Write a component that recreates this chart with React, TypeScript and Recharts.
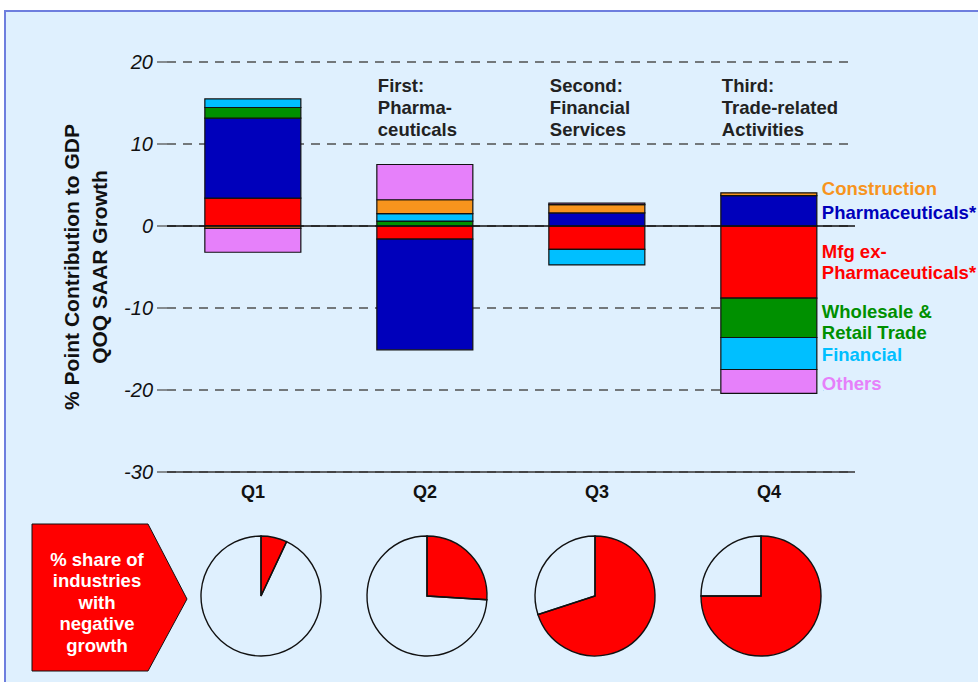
import React from "react";
import {
  BarChart,
  Bar,
  XAxis,
  YAxis,
  CartesianGrid,
  ReferenceLine,
  LabelList,
  Label,
  PieChart,
  Pie,
  Cell,
} from "recharts";

const quarters = ["Q1", "Q2", "Q3", "Q4"];
const mfgExPharma = [3.4, -1.6, -2.85, -8.8];
const pharma = [9.75, -13.5, 1.6, 3.7];
const wholesaleRetail = [1.3, 0.6, 0, -4.8];
const financial = [1.05, 0.9, -1.9, -3.9];
const construction = [-0.3, 1.7, 1.0, 0.35];
const others = [-2.9, 4.3, 0.2, -2.9];
const yTicks = [-30, -20, -10, 0, 10, 20];

// % share of industries with negative growth
const negShare = [7, 26, 70, 75];
const restShare = [93, 74, 30, 25];

const callouts: Record<string, string[]> = {
  Q2: ["First:", "Pharma-", "ceuticals"],
  Q3: ["Second:", "Financial", "Services"],
  Q4: ["Third:", "Trade-related", "Activities"],
};

const FONT = "'Liberation Sans', Arial, sans-serif";
const BG = "#DFF0FE";
const TXT = 18.5;

const series = [
  { key: "mfg", color: "#FF0000", legend: ["Mfg ex-", "Pharmaceuticals*"], dy: 0 },
  { key: "pharma", color: "#0000BB", legend: ["Pharmaceuticals*"], dy: 2 },
  { key: "wholesale", color: "#009000", legend: ["Wholesale &", "Retail Trade"], dy: 4 },
  { key: "financial", color: "#00BFFF", legend: ["Financial"], dy: 1 },
  { key: "construction", color: "#F7941D", legend: ["Construction"], dy: -6 },
  { key: "others", color: "#E680FA", legend: ["Others"], dy: 2 },
];

const data = quarters.map((q, i) => ({
  quarter: q,
  mfg: mfgExPharma[i],
  pharma: pharma[i],
  wholesale: wholesaleRetail[i],
  financial: financial[i],
  construction: construction[i],
  others: others[i],
}));

function box(props: any) {
  const vb = props.viewBox || props;
  return { x: vb.x, y: vb.y, width: vb.width, height: vb.height };
}

// legend text sits to the right of the last bar, next to its own segment
function legendLabel(lines: string[], color: string, dy: number) {
  return (props: any) => {
    if (props.value !== "Q4") return null;
    const b = box(props);
    const cy = b.y + b.height / 2 + dy;
    const top = cy - ((lines.length - 1) * 21.5) / 2;
    return (
      <g>
        {lines.map((t, k) => (
          <text
            key={k}
            x={b.x + b.width + 5}
            y={top + k * 21.5}
            dominantBaseline="central"
            fill={color}
            stroke={BG}
            strokeWidth={5}
            strokeLinejoin="round"
            paintOrder="stroke"
            fontSize={TXT}
            fontWeight="bold"
            fontFamily={FONT}
          >
            {t}
          </text>
        ))}
      </g>
    );
  };
}

function calloutLabel(props: any) {
  const lines = callouts[props.value] || [];
  const b = box(props);
  return (
    <g>
      {lines.map((t, k) => (
        <text
          key={k}
          x={b.x + 1}
          y={85 + k * 22}
          dominantBaseline="central"
          fill="#222"
          fontSize={TXT}
          fontWeight="bold"
          fontFamily={FONT}
        >
          {t}
        </text>
      ))}
    </g>
  );
}

function YTitle(props: any) {
  const vb = props.viewBox;
  const cy = vb.y + vb.height / 2;
  const lines = ["% Point Contribution to GDP", "QOQ SAAR Growth"];
  return (
    <g>
      {lines.map((t, k) => (
        <text
          key={k}
          x={71 + k * 28}
          y={cy}
          transform={`rotate(-90 ${71 + k * 28} ${cy})`}
          textAnchor="middle"
          dominantBaseline="central"
          fill="#111"
          fontSize={21}
          fontWeight="bold"
          fontFamily={FONT}
        >
          {t}
        </text>
      ))}
    </g>
  );
}

const pieCenters = [261, 427, 595, 761];

export default function App() {
  return (
    <div
      style={{
        position: "absolute",
        left: 0,
        top: 0,
        width: 978,
        height: 682,
        background: "#fff",
        overflow: "hidden",
        fontFamily: FONT,
      }}
    >
      <div
        style={{
          position: "absolute",
          left: 4,
          top: 10,
          width: 990,
          height: 690,
          background: BG,
          borderTop: "2px solid #6E7EDE",
          borderLeft: "2px solid #6E7EDE",
        }}
      />
      <div style={{ position: "absolute", left: 0, top: 0 }}>
        <BarChart
          width={978}
          height={520}
          data={data}
          stackOffset="sign"
          barCategoryGap="22%"
          margin={{ top: 62, right: 123, bottom: 18, left: 0 }}
        >
          <CartesianGrid
            vertical={false}
            stroke="#505050"
            strokeDasharray="9 7"
            strokeWidth={1.3}
          />
          <XAxis
            dataKey="quarter"
            height={30}
            axisLine={{ stroke: "#333", strokeWidth: 1.5 }}
            tickLine={false}
            tickSize={0}
            tickMargin={13}
            tick={{ fill: "#111", fontSize: 18, fontWeight: "bold", fontFamily: FONT }}
          />
          <YAxis
            width={167}
            domain={[-30, 20]}
            ticks={yTicks}
            axisLine={false}
            tickLine={{ stroke: "#555", strokeWidth: 1.3 }}
            tickSize={10}
            tickMargin={4}
            tick={{ fill: "#111", fontSize: 20, fontStyle: "italic", fontFamily: FONT }}
          >
            <Label content={<YTitle />} />
          </YAxis>
          <ReferenceLine y={0} stroke="#111" strokeWidth={1.5} />
          {series.map((s) => (
            <Bar
              key={s.key}
              dataKey={s.key}
              stackId="a"
              fill={s.color}
              stroke="#111"
              strokeWidth={1.2}
              isAnimationActive={false}
            >
              <LabelList
                dataKey={(d: any) => d.quarter}
                content={legendLabel(s.legend, s.color, s.dy)}
              />
              {s.key === "mfg" && (
                <LabelList dataKey={(d: any) => d.quarter} content={calloutLabel} />
              )}
            </Bar>
          ))}
        </BarChart>
      </div>
      <svg
        width={200}
        height={170}
        style={{ position: "absolute", left: 0, top: 510 }}
      >
        <polygon
          points="32,14 148,14 187,89 148,161 32,161"
          fill="#FF0000"
          stroke="#111"
          strokeWidth={1}
        />
        {["% share of", "industries", "with", "negative", "growth"].map((t, k) => (
          <text
            key={k}
            x={97}
            y={49 + k * 21.5}
            textAnchor="middle"
            dominantBaseline="central"
            fill="#fff"
            fontSize={TXT}
            fontWeight="bold"
            fontFamily={FONT}
          >
            {t}
          </text>
        ))}
      </svg>
      <div style={{ position: "absolute", left: 0, top: 510 }}>
        <PieChart
          width={978}
          height={172}
          margin={{ top: 0, right: 0, bottom: 0, left: 0 }}
        >
          {quarters.map((q, i) => (
            <Pie
              key={q}
              data={[
                { name: "negative", value: negShare[i] },
                { name: "rest", value: restShare[i] },
              ]}
              dataKey="value"
              cx={pieCenters[i]}
              cy={86}
              outerRadius={60}
              innerRadius={0}
              startAngle={90}
              endAngle={-270}
              stroke="#111"
              strokeWidth={1.4}
              isAnimationActive={false}
            >
              <Cell fill="#FF0000" />
              <Cell fill="transparent" />
            </Pie>
          ))}
        </PieChart>
      </div>
    </div>
  );
}
